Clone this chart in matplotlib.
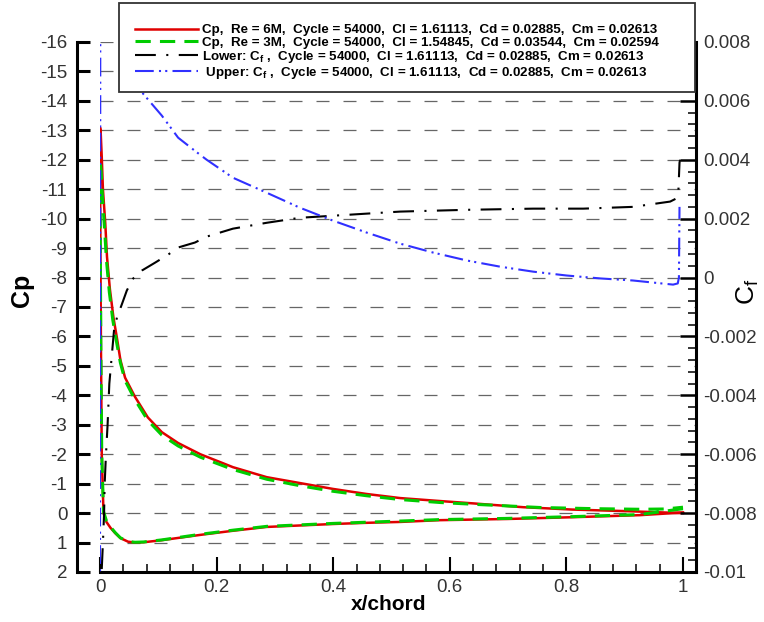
import numpy as np
import matplotlib
matplotlib.use("Agg")
import matplotlib.pyplot as plt
from matplotlib.patches import Rectangle
from matplotlib.ticker import MultipleLocator, FuncFormatter

plt.rcParams['font.family'] = ['Liberation Sans', 'DejaVu Sans']
plt.rcParams['axes.unicode_minus'] = False
plt.rcParams['mathtext.fontset'] = 'custom'
plt.rcParams['mathtext.rm'] = 'Liberation Sans'
plt.rcParams['mathtext.it'] = 'Liberation Sans:italic'
plt.rcParams['mathtext.bf'] = 'Liberation Sans:bold'

# Cp, Re = 6M : upper surface (LE -> TE) and lower surface (TE -> LE)
x_up_6m = [0.0, 0.001, 0.003, 0.005, 0.009, 0.012, 0.017, 0.023, 0.029, 0.035,
           0.043, 0.06, 0.082, 0.106, 0.134, 0.172, 0.228, 0.286, 0.343, 0.40,
           0.457, 0.515, 0.583, 0.64, 0.726, 0.81, 0.897, 0.955, 1.0]
cp_up_6m = [-13.1, -13.0, -12.1, -11.0, -9.85, -8.7, -7.6, -6.65, -5.95, -5.2,
            -4.6, -3.95, -3.25, -2.75, -2.38, -2.0, -1.56, -1.22, -1.02, -0.82,
            -0.65, -0.51, -0.41, -0.33, -0.2, -0.12, -0.07, -0.03, 0.0]
x_lo = [1.0, 0.926, 0.81, 0.698, 0.583, 0.515, 0.457, 0.40, 0.343, 0.286,
        0.228, 0.172, 0.106, 0.075, 0.06, 0.048, 0.035, 0.026, 0.018, 0.011,
        0.006, 0.003, 0.0015, 0.0005, 0.0]
cp_lo_6m = [-0.02, 0.07, 0.14, 0.20, 0.24, 0.30, 0.33, 0.37, 0.42, 0.47,
            0.60, 0.74, 0.92, 0.99, 1.0, 0.97, 0.85, 0.68, 0.50, 0.30,
            0.0, -2.0, -6.0, -10.0, -13.1]

# Cp, Re = 3M
x_up_3m = [0.0, 0.002, 0.004, 0.008, 0.011, 0.016, 0.022, 0.028, 0.035, 0.043,
           0.06, 0.082, 0.106, 0.134, 0.172, 0.228, 0.286, 0.343, 0.40, 0.457,
           0.515, 0.583, 0.64, 0.755, 0.85, 0.926, 0.97, 1.0]
cp_up_3m = [-12.0, -11.6, -10.8, -9.6, -8.6, -7.5, -6.55, -5.85, -5.1, -4.5,
            -3.85, -3.15, -2.65, -2.28, -1.9, -1.48, -1.15, -0.93, -0.74, -0.59,
            -0.46, -0.36, -0.3, -0.19, -0.15, -0.13, -0.14, -0.2]
cp_lo_3m = [-0.15, 0.05, 0.12, 0.18, 0.22, 0.27, 0.31, 0.35, 0.40, 0.45,
            0.58, 0.72, 0.91, 0.98, 0.99, 0.96, 0.84, 0.66, 0.47, 0.26,
            -0.05, -2.0, -5.5, -9.0, -12.0]

# skin friction, lower surface
x_cf_lo = [0.003, 0.005, 0.007, 0.008, 0.01, 0.013, 0.016, 0.02, 0.024, 0.029,
           0.038, 0.046, 0.057, 0.072, 0.094, 0.117, 0.134, 0.163, 0.183, 0.228,
           0.286, 0.343, 0.40, 0.457, 0.515, 0.629, 0.743, 0.829, 0.914, 0.978,
           0.99, 0.992, 0.994, 0.995]
cf_lo = [-0.0099, -0.009, -0.008, -0.007, -0.0061, -0.005, -0.0036, -0.0027, -0.0018, -0.00136,
         -0.00088, -0.00044, -0.00003, 0.00024, 0.0005, 0.00078, 0.00102, 0.00119, 0.00139, 0.00166,
         0.00186, 0.00203, 0.0021, 0.00217, 0.00224, 0.0023, 0.00234, 0.00234, 0.0024, 0.00258,
         0.0027, 0.0029, 0.0039, 0.004]

# skin friction, upper surface
x_cf_up = [0.0, 0.0005, 0.003, 0.01, 0.02, 0.035, 0.05, 0.074, 0.106, 0.134,
           0.163, 0.183, 0.228, 0.286, 0.343, 0.40, 0.457, 0.515, 0.571, 0.629,
           0.686, 0.743, 0.80, 0.858, 0.914, 0.983, 0.991, 0.993, 0.994]
cf_up = [-0.011, 0.009, 0.0115, 0.0105, 0.0095, 0.0083, 0.0074, 0.00624, 0.0055, 0.00475,
         0.0043, 0.004, 0.00339, 0.00288, 0.00237, 0.00193, 0.00153, 0.00115, 0.00085, 0.00058,
         0.00037, 0.0002, 0.00007, -0.00003, -0.0001, -0.00024, -0.0002, 0.0, 0.0024]

labels = [
    "Cp,  Re = 6M,  Cycle = 54000,  Cl = 1.61113,  Cd = 0.02885,  Cm = 0.02613",
    "Cp,  Re = 3M,  Cycle = 54000,  Cl = 1.54845,  Cd = 0.03544,  Cm = 0.02594",
    r"Lower: C$_{\bf f}$ ,  Cycle = 54000,  Cl = 1.61113,  Cd = 0.02885,  Cm = 0.02613",
    r" Upper: C$_{\bf f}$ ,  Cycle = 54000,  Cl = 1.61113,  Cd = 0.02885,  Cm = 0.02613",
]

fig = plt.figure(figsize=(7.64, 6.22), dpi=100)
ax = fig.add_axes([0.1309, 0.0804, 0.7801, 0.8521])
ax2 = ax.twinx()

# Cp curves (closed loop lower TE -> LE -> upper TE)
l1, = ax.plot(np.concatenate([x_lo, x_up_6m]), np.concatenate([cp_lo_6m, cp_up_6m]),
              color='#e00000', lw=1.8, label=labels[0], zorder=3)
l2, = ax.plot(np.concatenate([x_lo, x_up_3m]), np.concatenate([cp_lo_3m, cp_up_3m]),
              color='#00cc00', lw=2.2, ls=(0, (5, 3)), label=labels[1], zorder=4)

# Cf curves
l3, = ax2.plot(x_cf_lo, cf_lo, color='black', lw=1.5, ls=(0, (10, 5, 1, 5)), label=labels[2])
l4, = ax2.plot(x_cf_up, cf_up, color='#3030ff', lw=1.5, ls=(0, (9, 2.5, 1, 2, 1, 2.5)),
               label=labels[3])

ax.set_xlim(0, 1.0223)
ax.set_ylim(2, -16)
ax2.set_ylim(-0.01, 0.008)

ax.grid(True, axis='y', color='#666666', lw=0.9, ls=(0, (10.4, 11.2)))
ax.set_axisbelow(True)

for s in ['top', 'right']:
    ax.spines[s].set_visible(False)
for s in ['top', 'left', 'bottom']:
    ax2.spines[s].set_visible(False)
ax.spines['left'].set_position(('outward', 16.5))
ax.spines['left'].set_linewidth(2.2)
ax.spines['bottom'].set_linewidth(2.2)
ax2.spines['right'].set_linewidth(2.2)

ax.xaxis.set_major_locator(MultipleLocator(0.2))
ax.xaxis.set_minor_locator(MultipleLocator(0.04))
ax.yaxis.set_major_locator(MultipleLocator(1))
ax2.yaxis.set_major_locator(MultipleLocator(0.002))
ax2.yaxis.set_minor_locator(MultipleLocator(0.0004))

def fmt(v, pos):
    if abs(v) < 1e-9:
        return '0'
    return '%g' % round(v, 4)

ax.xaxis.set_major_formatter(FuncFormatter(fmt))
ax.yaxis.set_major_formatter(FuncFormatter(fmt))
ax2.yaxis.set_major_formatter(FuncFormatter(fmt))

tick_col = '#333333'
ax.tick_params(axis='x', which='major', direction='in', length=10.8, width=1.5,
               labelsize=13.5, pad=5, labelcolor=tick_col)
ax.tick_params(axis='x', which='minor', direction='in', length=5.5, width=1.1)
ax.tick_params(axis='y', which='major', direction='in', length=9.4, width=2.2,
               labelsize=13.5, pad=7, labelcolor=tick_col)
ax2.tick_params(axis='y', which='major', direction='in', length=11.5, width=1.8,
                labelsize=13.5, pad=5, labelcolor=tick_col)
ax2.tick_params(axis='y', which='minor', direction='in', length=5.8, width=1.1)

fig.text(22 / 764, 1 - 290 / 622, 'Cp', rotation=90, ha='center', va='center',
         fontsize=18, fontweight='bold')
fig.text(748 / 764, 1 - 292 / 622, r'$\mathrm{C_f}$', rotation=90, ha='center', va='center',
         fontsize=19)
fig.text(389 / 764, 1 - 605 / 622, 'x/chord', ha='center', va='center',
         fontsize=15, fontweight='bold')

# legend box: white panel with frame, entries on top
box = Rectangle((119 / 764, 1 - 92 / 622), 576 / 764, 89 / 622,
                transform=fig.transFigure, facecolor='white', edgecolor='#333333',
                lw=1.3, zorder=2)
fig.patches.append(box)
leg = fig.legend(handles=[l1, l2, l3, l4], loc='upper left',
                 bbox_to_anchor=(135 / 764, 1 - 24 / 622),
                 bbox_transform=fig.transFigure,
                 prop={'size': 9.6, 'weight': 'bold'}, borderpad=0,
                 handlelength=4.7, handletextpad=0.3, labelspacing=0.0,
                 frameon=False, borderaxespad=0)
leg.set_zorder(3)

fig.savefig('out.png', dpi=100)
